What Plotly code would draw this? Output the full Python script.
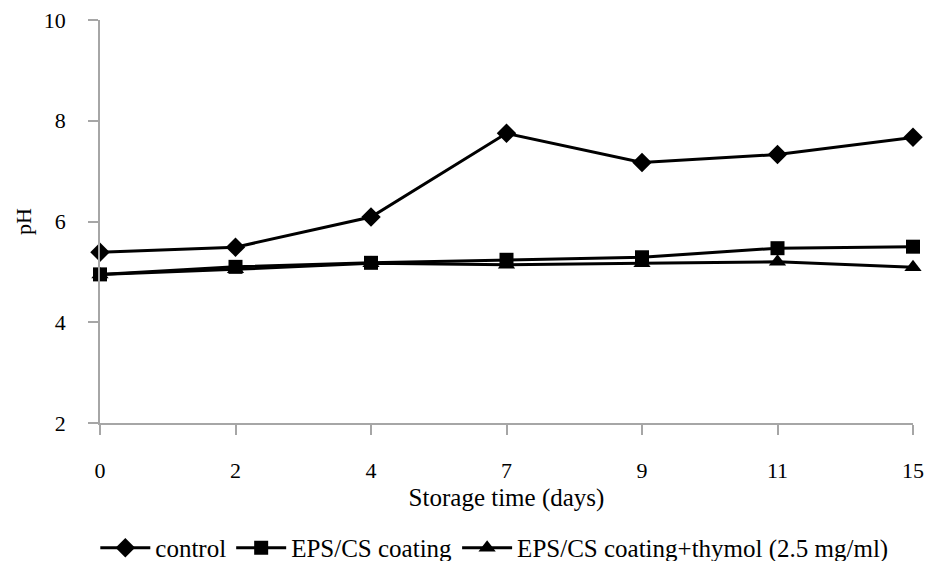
import plotly.graph_objects as go

days = ["0", "2", "4", "7", "9", "11", "15"]
control = [5.39, 5.49, 6.09, 7.75, 7.17, 7.33, 7.67]
eps_cs = [4.95, 5.10, 5.18, 5.24, 5.29, 5.47, 5.50]
eps_cs_thymol = [4.95, 5.05, 5.17, 5.14, 5.17, 5.20, 5.09]
y_ticks = [2, 4, 6, 8, 10]

FONT = "Liberation Serif"

fig = go.Figure()
series = [
    ("control", control, "diamond", 15),
    ("EPS/CS coating", eps_cs, "square", 14),
    ("EPS/CS coating+thymol (2.5 mg/ml)", eps_cs_thymol, "triangle-up", 15),
]
for name, vals, sym, sz in series:
    fig.add_trace(go.Scatter(
        x=days, y=vals, name=name, mode="lines+markers",
        line=dict(color="black", width=3),
        marker=dict(symbol=sym, size=sz, color="black"),
        cliponaxis=False,
    ))

fig.update_layout(
    width=927, height=561,
    margin=dict(l=100, r=14, t=20, b=138, autoexpand=False),
    paper_bgcolor="white", plot_bgcolor="white",
    font=dict(family=FONT, size=22, color="black"),
    showlegend=True,
    legend=dict(orientation="h", x=0.485, xanchor="center", y=-0.31, yanchor="middle",
                font=dict(family=FONT, size=25), itemwidth=50, tracegroupgap=0),
)
fig.update_xaxes(
    type="category", range=[0, 6], automargin=False,
    showline=True, linecolor="#a6a6a6", linewidth=1.5,
    ticks="outside", ticklen=10, tickcolor="#a6a6a6", tickwidth=1.5,
    showgrid=False, zeroline=False,
    tickfont=dict(family=FONT, size=22),
    ticklabelstandoff=17,
    title=dict(text="Storage time (days)", font=dict(family=FONT, size=25), standoff=6),
)
fig.update_yaxes(
    range=[2, 10], tickvals=y_ticks, automargin=False,
    showline=True, linecolor="#a6a6a6", linewidth=1.5,
    ticks="outside", ticklen=10, tickcolor="#a6a6a6", tickwidth=1.5,
    showgrid=False, zeroline=False,
    tickfont=dict(family=FONT, size=22),
    ticklabelstandoff=18,
    title=dict(text="pH", font=dict(family=FONT, size=22), standoff=6),
)

fig.write_html("out.html")
